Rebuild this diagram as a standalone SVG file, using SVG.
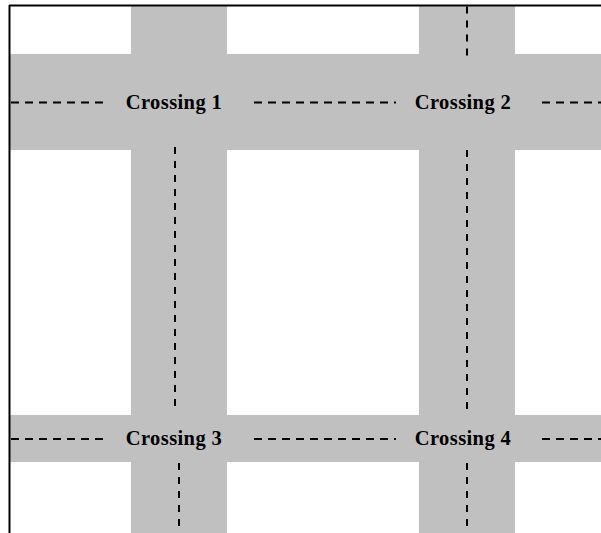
<svg xmlns="http://www.w3.org/2000/svg" width="601" height="533" viewBox="0 0 601 533">
  <style>
    .road { fill: #c0c0c0; }
    .border { stroke: #000; stroke-width: 2; fill: none; }
    .lane-h { stroke: #000; stroke-width: 2; stroke-dasharray: 8 6; fill: none; }
    .lane-v { stroke: #000; stroke-width: 2; stroke-dasharray: 7 7; fill: none; }
    .label { font-family: "Liberation Serif", "Times New Roman", serif; font-weight: bold; font-size: 20.5px; letter-spacing: 0.4px; fill: #000; text-anchor: middle; }
  </style>
  <rect width="601" height="533" fill="#fff"/>

  <!-- road surfaces -->
  <g id="roads">
    <rect class="road" x="10" y="54" width="591" height="96"/>
    <rect class="road" x="10" y="415" width="591" height="47"/>
    <rect class="road" x="131" y="6" width="96" height="527"/>
    <rect class="road" x="419" y="6" width="96" height="527"/>
  </g>

  <!-- frame -->
  <g id="frame">
    <line class="border" x1="9" y1="5.5" x2="601" y2="5.5"/>
    <line class="border" x1="9.5" y1="5" x2="9.5" y2="533"/>
  </g>

  <!-- lane markings -->
  <g id="connectors">
    <line class="lane-h" x1="11" y1="102.5" x2="103" y2="102.5"/>
    <line class="lane-h" x1="254" y1="102.5" x2="396" y2="102.5"/>
    <line class="lane-h" x1="542" y1="102.5" x2="601" y2="102.5"/>
    <line class="lane-h" x1="11" y1="439" x2="103" y2="439"/>
    <line class="lane-h" x1="254" y1="439" x2="396" y2="439"/>
    <line class="lane-h" x1="542" y1="439" x2="601" y2="439"/>
    <line class="lane-v" x1="175" y1="147" x2="175" y2="408"/>
    <line class="lane-v" x1="179" y1="463" x2="179" y2="533"/>
    <line class="lane-v" x1="467" y1="6.5" x2="467" y2="56"/>
    <line class="lane-v" x1="467" y1="150" x2="467" y2="410"/>
    <line class="lane-v" x1="467" y1="463" x2="467" y2="533"/>
  </g>

  <g id="crossing1"><text class="label" x="174" y="109">Crossing 1</text></g>
  <g id="crossing2"><text class="label" x="463" y="109">Crossing 2</text></g>
  <g id="crossing3"><text class="label" x="174" y="445">Crossing 3</text></g>
  <g id="crossing4"><text class="label" x="463" y="445">Crossing 4</text></g>
</svg>
